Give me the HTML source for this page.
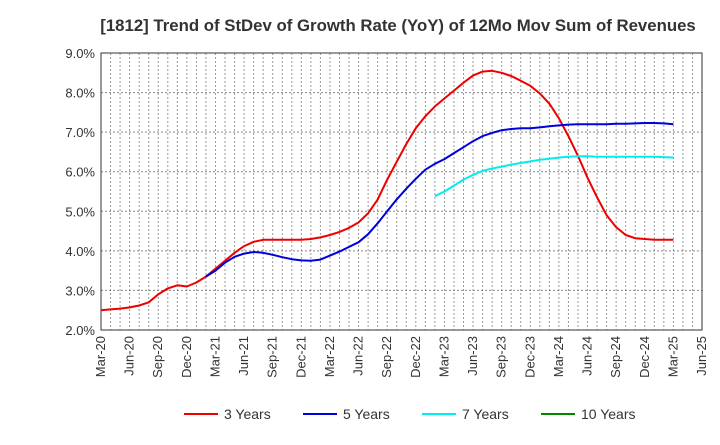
<!DOCTYPE html>
<html><head><meta charset="utf-8"><style>
body{margin:0;background:#fff;font-family:"Liberation Sans",sans-serif}
</style></head><body>
<svg id="c" width="720" height="440" xmlns="http://www.w3.org/2000/svg">
<text x="398" y="31" text-anchor="middle" font-size="16.8" font-weight="bold" fill="#333">[1812]  Trend of StDev of Growth Rate (YoY) of 12Mo Mov Sum of Revenues</text>
<g id="grid"></g><g id="axes"></g><g id="series"></g><g id="legend"></g>
</svg>
<script>
const xTicks=["Mar-20","Jun-20","Sep-20","Dec-20","Mar-21","Jun-21","Sep-21","Dec-21","Mar-22","Jun-22","Sep-22","Dec-22","Mar-23","Jun-23","Sep-23","Dec-23","Mar-24","Jun-24","Sep-24","Dec-24","Mar-25","Jun-25"];
const yTicks=[2,3,4,5,6,7,8,9];
const red=[2.5,2.52,2.54,2.57,2.62,2.7,2.9,3.05,3.13,3.1,3.2,3.35,3.55,3.75,3.95,4.12,4.23,4.28,4.28,4.28,4.28,4.28,4.3,4.34,4.4,4.48,4.58,4.72,4.95,5.3,5.8,6.25,6.7,7.1,7.4,7.65,7.85,8.05,8.25,8.43,8.53,8.55,8.5,8.42,8.3,8.17,7.98,7.72,7.35,6.9,6.4,5.85,5.35,4.9,4.6,4.4,4.32,4.3,4.28,4.28,4.28];
const blue=[null,null,null,null,null,null,null,null,null,null,null,3.35,3.5,3.7,3.85,3.93,3.97,3.95,3.9,3.84,3.79,3.76,3.75,3.78,3.88,3.98,4.1,4.22,4.42,4.7,5.0,5.3,5.57,5.82,6.05,6.2,6.32,6.47,6.62,6.77,6.9,6.98,7.05,7.08,7.1,7.1,7.12,7.15,7.17,7.19,7.2,7.2,7.2,7.2,7.21,7.21,7.22,7.23,7.23,7.22,7.2];
const cyan=[null,null,null,null,null,null,null,null,null,null,null,null,null,null,null,null,null,null,null,null,null,null,null,null,null,null,null,null,null,null,null,null,null,null,null,5.38,5.5,5.65,5.8,5.92,6.02,6.08,6.13,6.18,6.22,6.26,6.3,6.33,6.36,6.38,6.39,6.39,6.38,6.38,6.38,6.38,6.38,6.38,6.38,6.37,6.36];
const green=[];
const L=101,R=702,T=53,B=330;
const nMonths=63;
const X=i=>L+(R-L)*i/nMonths;
const Y=v=>B-(B-T)*(v-2)/7;
const NS="http://www.w3.org/2000/svg";
function mk(p,t,a){const e=document.createElementNS(NS,t);for(const k in a)e.setAttribute(k,a[k]);p.appendChild(e);return e;}
const grid=document.getElementById('grid'),axes=document.getElementById('axes'),ser=document.getElementById('series'),leg=document.getElementById('legend');
for(let m=1;m<nMonths;m++){const l=mk(grid,'line',{x1:X(m),x2:X(m),y1:T,y2:B,stroke:'#999','stroke-dasharray':'2,2','stroke-width':1});

}
yTicks.forEach(v=>{const l=mk(grid,'line',{x1:L,x2:R,y1:Y(v),y2:Y(v),stroke:'#888','stroke-dasharray':'2,2','stroke-width':1});


const t=mk(axes,'text',{x:L-6,y:Y(v)+5,'text-anchor':'end','font-size':13,fill:'#333'});t.textContent=v.toFixed(1)+'%';

});
const fr=mk(axes,'rect',{x:L,y:T,width:R-L,height:B-T,fill:'none',stroke:'#333','stroke-width':1});


xTicks.forEach((s,i)=>{const x=X(i*3)+4;const t=mk(axes,'text',{x:x,y:B+6,'text-anchor':'end','font-size':13,fill:'#333',transform:`rotate(-90 ${x} ${B+6})`});t.textContent=s;

});
function line(d,c,n){let p='';d.forEach((v,i)=>{if(v==null)return;p+=(p?'L':'M')+X(i).toFixed(1)+','+Y(v).toFixed(1);});if(!p)return;
const e=mk(ser,'path',{d:p,fill:'none',stroke:c,'stroke-width':2,'stroke-linejoin':'round'});

}
line(red,'#ee0000','series-3-years');line(blue,'#0000dd','series-5-years');line(cyan,'#00eeee','series-7-years');line(green,'#008800','series-10-years');
[["3 Years","#ee0000",184],["5 Years","#0000dd",303],["7 Years","#00eeee",422],["10 Years","#008800",541]].forEach(([s,c,x])=>{
const g=mk(leg,'g',{});


mk(g,'line',{x1:x,x2:x+34,y1:414,y2:414,stroke:c,'stroke-width':2});
const t=mk(g,'text',{x:x+40,y:419,'font-size':14,fill:'#333'});t.textContent=s;});
</script>
</body></html>
